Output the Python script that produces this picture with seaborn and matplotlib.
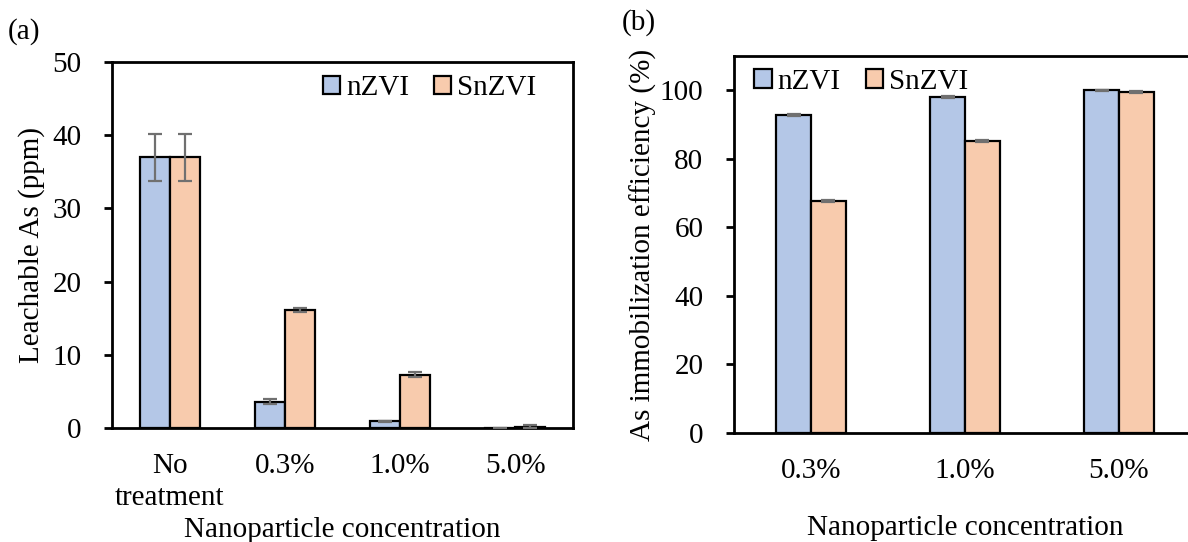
import matplotlib
matplotlib.use("Agg")
import matplotlib.pyplot as plt
import seaborn as sns
import pandas as pd
import numpy as np

# ---- data ----
cats_a = ["No\ntreatment", "0.3%", "1.0%", "5.0%"]
nzvi_a = [37.0, 3.6, 0.9, -0.1]
snzvi_a = [37.0, 16.1, 7.3, 0.2]
nzvi_a_err = [3.2, 0.35, 0.1, 0.05]
snzvi_a_err = [3.2, 0.3, 0.3, 0.2]

cats_b = ["0.3%", "1.0%", "5.0%"]
nzvi_b = [92.8, 98.0, 100.0]
snzvi_b = [67.7, 85.3, 99.5]
nzvi_b_err = [0.4, 0.2, 0.1]
snzvi_b_err = [0.3, 0.3, 0.4]

series = ["nZVI", "SnZVI"]
colors = {"nZVI": "#B4C7E7", "SnZVI": "#F8CBAD"}

sns.set_theme(style="white")
plt.rcParams["font.family"] = ["Liberation Serif", "DejaVu Serif"]
for k in ["text.color", "axes.labelcolor", "xtick.color", "ytick.color"]:
    plt.rcParams[k] = "black"
FS = 21

fig = plt.figure(figsize=(11.88, 5.42), dpi=100)
ax1 = fig.add_axes([0.0943, 0.2103, 0.388, 0.6753])
ax2 = fig.add_axes([0.6178, 0.2011, 0.3889, 0.6956])


def draw(ax, cats, v1, v2, e1, e2, width):
    df = pd.DataFrame({
        "cat": cats * 2,
        "series": [series[0]] * len(cats) + [series[1]] * len(cats),
        "val": list(v1) + list(v2),
    })
    sns.barplot(data=df, x="cat", y="val", hue="series", order=cats,
                hue_order=series, palette=colors, width=width,
                edgecolor="black", linewidth=1.6, errorbar=None, ax=ax,
                saturation=1)
    for cont, errs in zip(ax.containers, [e1, e2]):
        xs = [b.get_x() + b.get_width() / 2 for b in cont]
        ys = [r.get_height() if r.get_y() == 0 else r.get_y() for r in cont]
        ax.errorbar(xs, ys, yerr=errs, fmt="none", ecolor="#707070",
                    elinewidth=1.6, capsize=5, capthick=1.6, zorder=5)
    for sp in ax.spines.values():
        sp.set_color("black")
        sp.set_linewidth(2)
    ax.tick_params(axis="y", direction="out", length=6, width=2,
                   color="black", labelsize=FS, pad=16, left=True)
    ax.tick_params(axis="x", length=0, labelsize=FS)
    ax.set_xlim(-0.5, len(cats) - 0.5)


draw(ax1, cats_a, nzvi_a, snzvi_a, nzvi_a_err, snzvi_a_err, 0.52)
draw(ax2, cats_b, nzvi_b, snzvi_b, nzvi_b_err, snzvi_b_err, 0.45)

ax1.set_ylim(0, 50)
ax1.set_yticks([0, 10, 20, 30, 40, 50])
ax1.tick_params(axis="x", pad=18)
for t in ax1.get_xticklabels():
    t.set_linespacing(1.3)
ax1.set_ylabel("Leachable As (ppm)", fontsize=FS, labelpad=5)
ax1.set_xlabel("Nanoparticle concentration", fontsize=FS, labelpad=4)

ax2.set_ylim(0, 110)
ax2.set_yticks([0, 20, 40, 60, 80, 100])
ax2.tick_params(axis="x", pad=18)
ax2.set_ylabel("As immobilization efficiency (%)", fontsize=FS, labelpad=2)
ax2.set_xlabel("Nanoparticle concentration", fontsize=FS, labelpad=22)
ax2.spines["right"].set_visible(False)

for ax, loc, anchor in [(ax1, "upper right", (0.965, 1.02)),
                        (ax2, "upper left", (0.0, 1.02))]:
    handles, labels = ax.get_legend_handles_labels()
    for h in handles:
        h.set_edgecolor("black")
        h.set_linewidth(1.6)
    ax.legend(handles, labels, loc=loc, bbox_to_anchor=anchor, ncol=2,
              frameon=False, fontsize=FS, handlelength=0.6, handleheight=0.6,
              handletextpad=0.2, columnspacing=0.85, borderaxespad=0.3)

fig.text(8 / 1188, 1 - 32 / 542, "(a)", fontsize=FS, va="center", ha="left")
fig.text(622 / 1188, 1 - 23 / 542, "(b)", fontsize=FS, va="center", ha="left")

fig.savefig("out.png", dpi=100)
